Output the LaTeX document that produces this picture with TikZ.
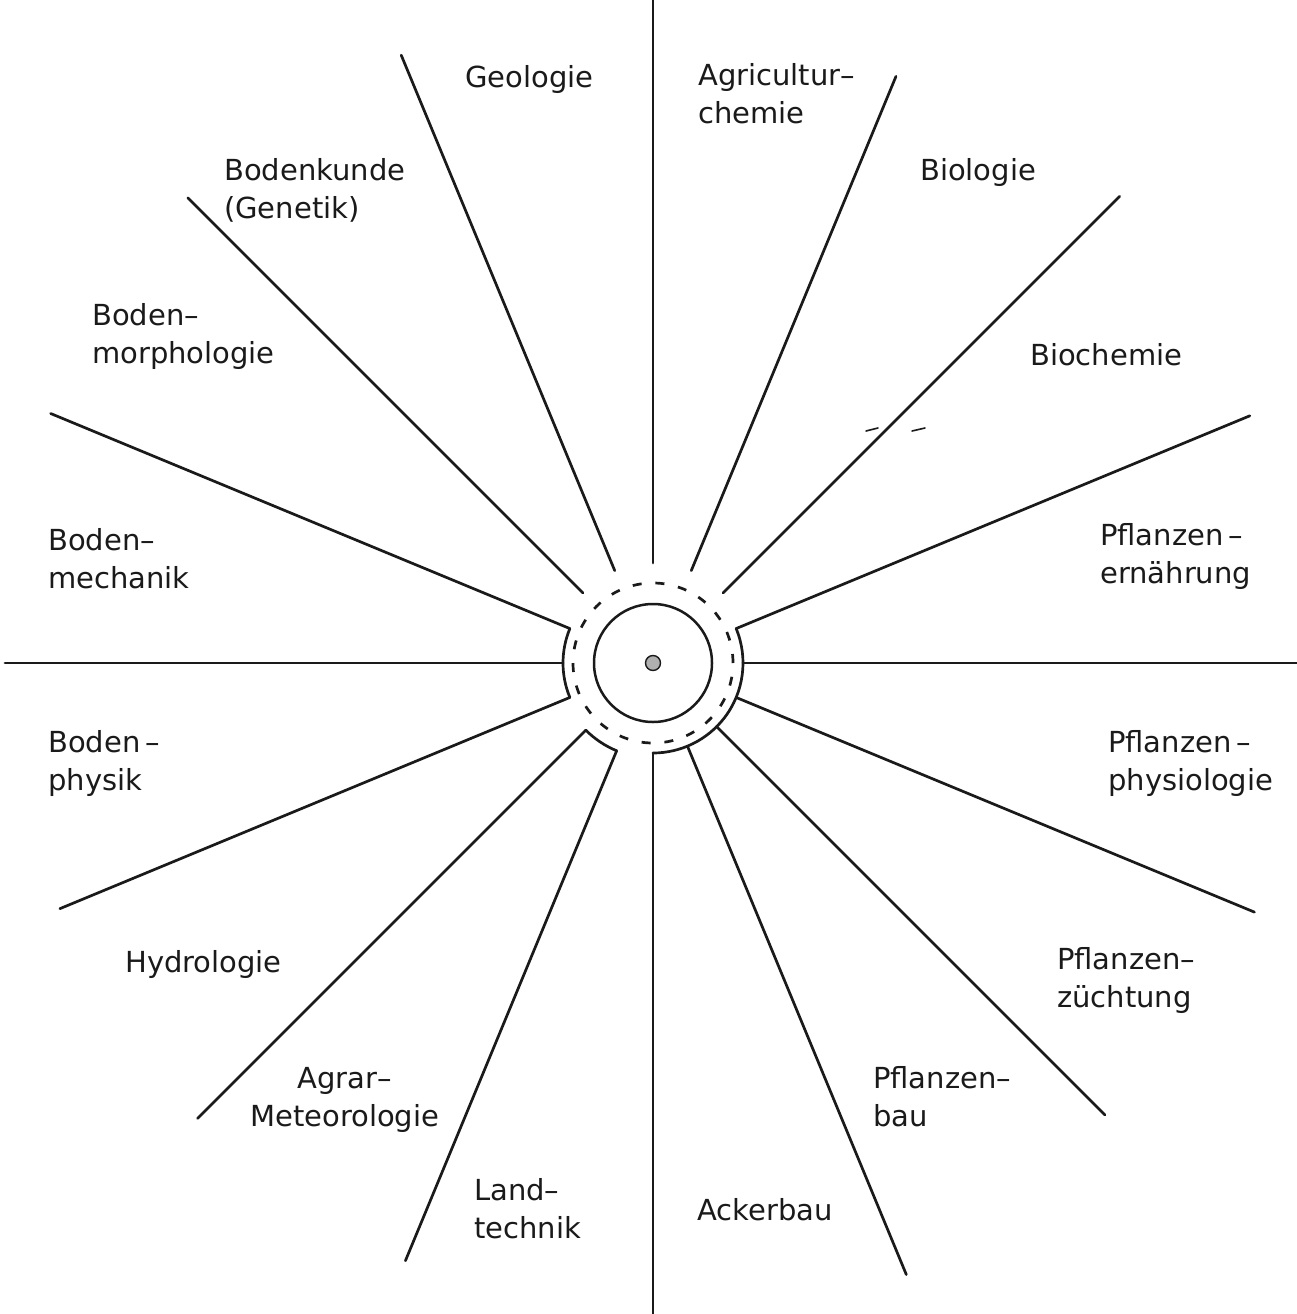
\documentclass[tikz,border=0pt]{standalone}
\usepackage{fontspec}
\setmainfont{DejaVu Sans}
\usepackage{tikz}
\usetikzlibrary{calc}
\definecolor{cink}{HTML}{1A1A1A}
\definecolor{cdot}{HTML}{B0B0B0}
\tikzset{
  spoke/.style={draw=cink, line width=2.7pt, line cap=round},
  ring/.style={draw=cink, line width=2.5pt},
  dashring/.style={draw=cink, line width=2.7pt, dash pattern=on 9pt off 13.85pt},
  speck/.style={draw=cink, line width=1.6pt, line cap=round},
  lbl/.style={font=\fontsize{29}{38}\selectfont, text=cink, inner sep=0pt,
              anchor=base west, align=left},
}
\begin{document}
\begin{tikzpicture}[x=1pt, y=-1pt]
  \useasboundingbox (0,0) rectangle (1297,1314);
  \coordinate (c) at (653,663);
  % spokes, clockwise from the top
  \foreach \a/\ri/\ro [count=\k] in {90/100/663, 67.5/100/635, 45/99/660,
      22.5/90/646, 0/90/644, -22.5/90/651, -45/90/639, -67.5/90/662,
      -90/90/651, -112.5/95/647, -135/95/644, -157.5/90/642, 180/90/648,
      157.5/90/652, 135/99/658, 112.5/100/658} {
    \coordinate (in\k) at ($(c)+(\a:\ri pt)$);
    \coordinate (out\k) at ($(c)+(\a:\ro pt)$);
    \draw[spoke] (in\k) -- (out\k);
  }
  \draw[spoke] (in4) arc[start angle=22.5, end angle=-90, radius=90pt];
  \draw[spoke] (in10) arc[start angle=-112.5, end angle=-135, radius=95pt];
  \draw[spoke] (in12) arc[start angle=-157.5, end angle=-202.5, radius=90pt];
  \draw[dashring] (c) circle[radius=80pt];
  \draw[ring] (c) circle[radius=59pt];
  \draw[ring, line width=1.4pt, fill=cdot] (c) circle[radius=7.5pt];
  \draw[speck] (866,431) -- (878,428);
  \draw[speck] (912,431) -- (925,428);

  % two-line labels sit on the baseline of their second line
  \node[lbl] (geo) at (465,87) {Geologie};
  \node[lbl] (agr) at (698,123) {Agricultur--\\chemie};
  \node[lbl] (bio) at (920,180) {Biologie};
  \node[lbl] (bch) at (1030,365) {Biochemie};
  \node[lbl] (pfe) at (1100,583) {Pflanzen\,--\\ernährung};
  \node[lbl] (pfp) at (1108,790) {Pflanzen\,--\\physiologie};
  \node[lbl] (pfz) at (1057,1007) {Pflanzen--\\züchtung};
  \node[lbl] (pfb) at (873,1126) {Pflanzen--\\bau};
  \node[lbl] (ack) at (697,1220) {Ackerbau};
  \node[lbl] (lnd) at (474,1238) {Land--\\technik};
  \node[lbl, align=center] (agm) at (250,1126) {Agrar--\\Meteorologie};
  \node[lbl] (hyd) at (125,972) {Hydrologie};
  \node[lbl] (bph) at (48,790) {Boden\,--\\physik};
  \node[lbl] (bme) at (48,588) {Boden--\\mechanik};
  \node[lbl] (bmo) at (92,363) {Boden--\\morphologie};
  \node[lbl] (bku) at (224,218) {Bodenkunde\\(Genetik)};
\end{tikzpicture}
\end{document}
